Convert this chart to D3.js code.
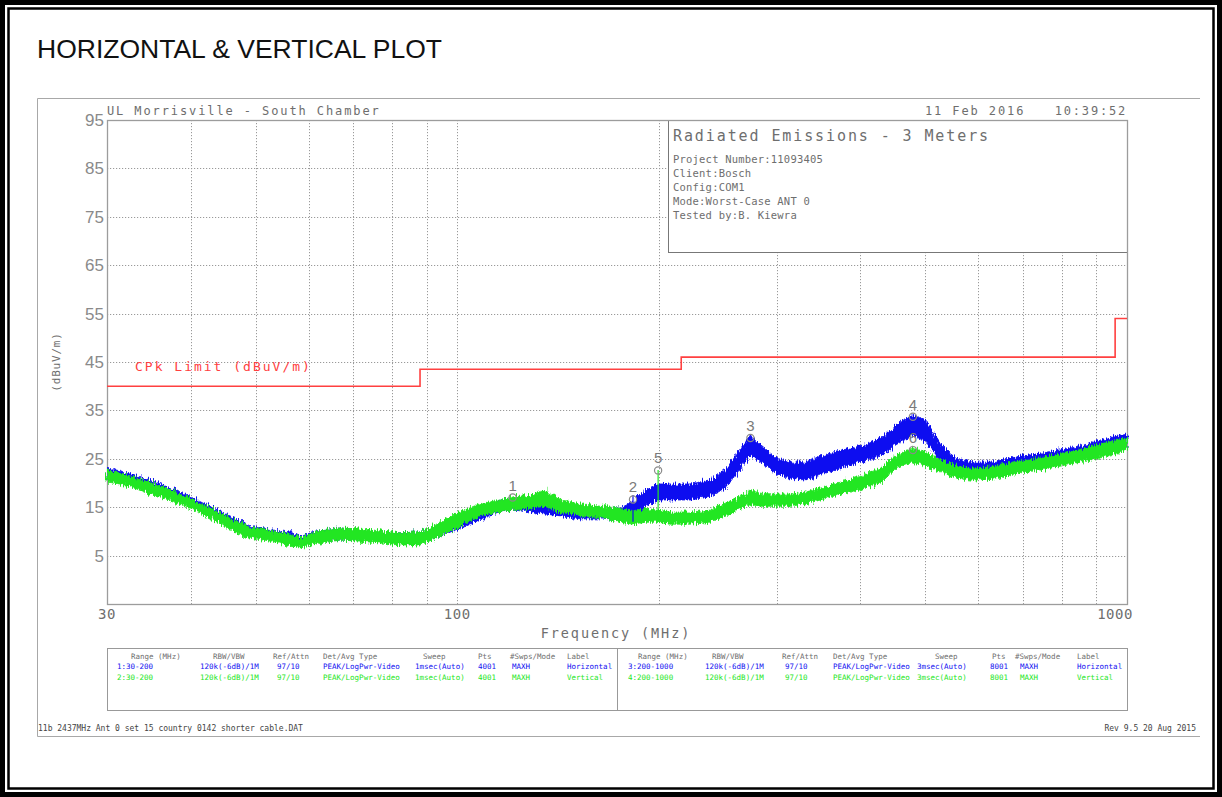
<!DOCTYPE html>
<html><head><meta charset="utf-8">
<script src="https://cdn.jsdelivr.net/npm/d3@7"></script>
<style>
html,body{margin:0;padding:0;background:#fff;}
svg{display:block;}
</style></head><body>
<svg id="chart" width="1222" height="797"></svg>
<script>
// ---- axis ticks ----
const yTickValues = [5, 15, 25, 35, 45, 55, 65, 75, 85, 95];
const yGridValues = [5, 15, 25, 35, 45, 55, 65, 75, 85];
const xGridValues = [40, 50, 60, 70, 80, 90, 100, 200, 300, 400, 500, 600, 700, 800, 900];
const xTickLabels = ["30", "100", "1000"];
const xTickValues = [30, 100, 1000];

// ---- CISPR QP limit (step after each frequency) ----
const limitFreq = [30, 88, 216, 960, 1000];
const limitLevel = [40, 43.5, 46, 54, 54];

// ---- Horizontal polarisation trace: envelope of the peak sweep ----
const hFreq = [30, 32.5, 34.8, 37.3, 39.9, 42.8, 45.8, 49.1, 52.6, 56.3, 58.3, 62.4, 66.9, 71.6, 76.8, 82.2, 88.1, 94.4, 101, 108, 116, 121, 129, 135, 143, 153, 164, 175, 183, 191, 199, 208, 223, 239, 252, 265, 274, 284, 299, 315, 331, 349, 374, 400, 429, 452, 479, 501, 527, 555, 585, 626, 671, 744, 825, 914, 1000];
const hHigh = [23.1, 21.9, 20.6, 19.0, 17.3, 15.2, 13.2, 11.1, 10.3, 9.9, 9.0, 10.3, 10.7, 10.3, 9.9, 9.7, 9.9, 11.5, 13.4, 14.8, 16.5, 16.9, 16.5, 16.5, 15.5, 15.0, 15.0, 14.8, 16.1, 18.6, 19.8, 19.8, 19.8, 20.6, 22.7, 27.2, 29.9, 27.9, 25.2, 24.3, 24.3, 25.6, 26.8, 27.6, 29.3, 32.0, 34.0, 33.0, 27.9, 25.2, 24.3, 24.3, 25.2, 26.2, 27.2, 28.9, 30.1];
const hLow = [20.6, 19.8, 18.1, 16.9, 15.2, 13.2, 10.7, 9.0, 8.2, 7.4, 7.0, 7.8, 8.2, 8.2, 7.8, 7.4, 7.4, 9.0, 10.7, 12.4, 14.0, 14.4, 14.0, 13.6, 13.2, 12.6, 12.6, 12.1, 13.2, 15.2, 16.5, 16.5, 16.5, 17.3, 19.0, 23.1, 25.8, 24.3, 21.9, 21.0, 20.6, 21.9, 23.1, 24.3, 25.6, 27.9, 29.9, 28.5, 24.3, 22.3, 21.4, 21.9, 22.7, 23.7, 24.8, 26.0, 27.2];

// ---- Vertical polarisation trace ----
const vFreq = [30, 32.5, 34.8, 37.3, 39.9, 42.8, 45.8, 49.1, 52.6, 56.3, 58.3, 62.4, 66.9, 71.6, 76.8, 82.2, 88.1, 94.4, 101, 108, 116, 121, 129, 135, 143, 153, 164, 175, 183, 191, 199, 208, 223, 239, 252, 265, 274, 284, 299, 315, 331, 349, 374, 400, 429, 452, 479, 501, 527, 555, 585, 626, 671, 744, 825, 914, 1000];
const vHigh = [22.7, 21.4, 20.2, 18.6, 16.9, 14.8, 12.8, 10.9, 10.1, 9.5, 8.6, 10.3, 10.7, 10.5, 10.1, 9.7, 9.9, 11.9, 14.0, 15.7, 16.5, 17.1, 17.5, 18.6, 16.5, 15.7, 15.2, 14.8, 14.0, 14.8, 14.4, 14.0, 14.0, 14.4, 15.9, 17.3, 18.6, 17.9, 17.7, 17.7, 18.1, 19.0, 20.2, 21.4, 23.1, 25.8, 27.2, 26.4, 24.8, 23.5, 23.1, 23.3, 24.1, 25.2, 26.4, 28.1, 29.3];
const vLow = [20.2, 19.4, 17.7, 16.5, 14.8, 12.8, 10.3, 8.6, 8.0, 7.0, 6.6, 7.6, 8.2, 8.0, 7.6, 7.2, 7.2, 9.0, 11.1, 13.2, 14.0, 14.4, 14.8, 15.2, 14.0, 13.2, 12.8, 11.9, 11.5, 11.9, 11.9, 11.5, 11.5, 11.9, 13.2, 14.8, 15.5, 15.2, 15.2, 15.2, 15.7, 16.5, 17.7, 18.6, 20.2, 23.1, 24.3, 23.5, 22.3, 21.0, 20.6, 20.8, 21.7, 22.7, 23.9, 25.2, 26.8];

// ---- isolated spikes at the sweep boundary ----
const spikeFreq = [183, 199.5];
const spikeTop = [17.5, 22.7];
const spikeBottom = [12.0, 12.0];
const spikeSeries = ["H", "V"];

// ---- peak markers ----
const markerIds = ["1", "2", "5", "3", "4", "6"];
const markerFreq = [121, 183, 199.5, 274, 479, 479];
const markerLevel = [17.0, 16.6, 22.6, 29.3, 33.7, 26.8];

// ---- header / footer text ----
const infoLines = ["Project Number:11093405", "Client:Bosch", "Config:COM1", "Mode:Worst-Case ANT 0", "Tested by:B. Kiewra"];
const tableHeaders = ["Range (MHz)", "RBW/VBW", "Ref/Attn", "Det/Avg Type", "Sweep", "Pts", "#Swps/Mode", "Label"];
const tableRowsLeft = [
  ["1:30-200", "120k(-6dB)/1M", "97/10", "PEAK/LogPwr-Video", "1msec(Auto)", "4001", "MAXH", "Horizontal"],
  ["2:30-200", "120k(-6dB)/1M", "97/10", "PEAK/LogPwr-Video", "1msec(Auto)", "4001", "MAXH", "Vertical"]
];
const tableRowsRight = [
  ["3:200-1000", "120k(-6dB)/1M", "97/10", "PEAK/LogPwr-Video", "3msec(Auto)", "8001", "MAXH", "Horizontal"],
  ["4:200-1000", "120k(-6dB)/1M", "97/10", "PEAK/LogPwr-Video", "3msec(Auto)", "8001", "MAXH", "Vertical"]
];

// ================= drawing =================
const svg = d3.select("#chart");
const W = 1222, H = 797;
const plot = {left: 107, right: 1127, top: 120, bottom: 604};
const x = d3.scaleLog().domain([30, 1000]).range([plot.left, plot.right]);
const y = d3.scaleLinear().domain([-5, 95]).range([plot.bottom, plot.top]);

const BLUE = "#1010f0", GREEN = "#22e622", RED = "#ff4040";
const GREYTXT = "#6e6e6e", GRID = "#9a9a9a";
const mono = "'DejaVu Sans Mono', monospace";

// rough edge for the swept traces (analyser noise floor look)
const defs = svg.append("defs");
const rough = defs.append("filter").attr("id", "rough")
  .attr("x", "-2%").attr("y", "-30%").attr("width", "104%").attr("height", "160%");
rough.append("feTurbulence").attr("type", "fractalNoise").attr("baseFrequency", "0.9 0.12")
  .attr("numOctaves", 2).attr("seed", 4).attr("result", "n");
rough.append("feDisplacementMap").attr("in", "SourceGraphic").attr("in2", "n")
  .attr("scale", 9).attr("xChannelSelector", "R").attr("yChannelSelector", "G");

// page frame
svg.append("rect").attr("width", W).attr("height", H).attr("fill", "#000");
svg.append("rect").attr("x", 5).attr("y", 5).attr("width", W - 10).attr("height", H - 10).attr("fill", "#fff");
svg.append("rect").attr("x", 8.5).attr("y", 8.5).attr("width", W - 17).attr("height", H - 17)
  .attr("fill", "none").attr("stroke", "#000").attr("stroke-width", 2.5);

svg.append("text").attr("x", 37).attr("y", 58)
  .attr("font-family", "'Liberation Sans', Arial, sans-serif").attr("font-size", 26.5)
  .attr("fill", "#111").text("HORIZONTAL & VERTICAL PLOT");

// frame of the analyser print-out
svg.append("path").attr("d", `M1200,98.5H37.5V736.5H1200`).attr("fill", "none")
  .attr("stroke", "#a8a8a8").attr("stroke-width", 1);

// grid
const g = svg.append("g");
g.selectAll(".hg").data(yGridValues).join("line")
  .attr("x1", plot.left).attr("x2", plot.right)
  .attr("y1", d => Math.round(y(d)) + 0.5).attr("y2", d => Math.round(y(d)) + 0.5)
  .attr("stroke", GRID).attr("stroke-dasharray", "1.2,1.8").attr("stroke-width", 1);
g.selectAll(".vg").data(xGridValues).join("line")
  .attr("y1", plot.top).attr("y2", plot.bottom)
  .attr("x1", d => Math.round(x(d)) + 0.5).attr("x2", d => Math.round(x(d)) + 0.5)
  .attr("stroke", GRID).attr("stroke-dasharray", "1.2,1.8").attr("stroke-width", 1);

// info box (covers the grid)
const boxX = 668, boxBottom = 252;
svg.append("rect").attr("x", boxX + 0.5).attr("y", plot.top + 0.5)
  .attr("width", plot.right - boxX).attr("height", boxBottom - plot.top)
  .attr("fill", "#fff").attr("stroke", "#777").attr("stroke-width", 1);
svg.append("text").attr("x", 673).attr("y", 141).attr("font-family", mono)
  .attr("font-size", 15).attr("letter-spacing", 1.9).attr("fill", GREYTXT)
  .text("Radiated Emissions - 3 Meters");
svg.selectAll(".info").data(infoLines).join("text")
  .attr("x", 673).attr("y", (d, i) => 163 + i * 14).attr("font-family", mono)
  .attr("font-size", 10.5).attr("letter-spacing", 0.2).attr("fill", GREYTXT).text(d => d);

// plot border
svg.append("rect").attr("x", plot.left + 0.5).attr("y", plot.top + 0.5)
  .attr("width", plot.right - plot.left).attr("height", plot.bottom - plot.top)
  .attr("fill", "none").attr("stroke", "#9c9c9c").attr("stroke-width", 1.3);

// header strings
svg.append("text").attr("x", 107).attr("y", 115).attr("font-family", mono).attr("font-size", 12)
  .attr("letter-spacing", 1.9).attr("fill", GREYTXT).text("UL Morrisville - South Chamber");
svg.append("text").attr("x", 925).attr("y", 115).attr("font-family", mono).attr("font-size", 12)
  .attr("letter-spacing", 1.9).attr("fill", GREYTXT).text("11 Feb 2016");
svg.append("text").attr("x", 1127).attr("y", 115).attr("text-anchor", "end").attr("font-family", mono)
  .attr("font-size", 12).attr("letter-spacing", 1.8).attr("fill", GREYTXT).text("10:39:52");

// y axis labels
svg.selectAll(".yl").data(yTickValues).join("text")
  .attr("x", 104).attr("y", d => y(d) + 6).attr("text-anchor", "end")
  .attr("font-family", "'Liberation Sans', Arial, sans-serif").attr("font-size", 17)
  .attr("fill", "#8a8a8a").text(d => d);
svg.append("text").attr("transform", `translate(60,362) rotate(-90)`).attr("text-anchor", "middle")
  .attr("font-family", mono).attr("font-size", 11).attr("letter-spacing", 0.8)
  .attr("fill", GREYTXT).text("(dBuV/m)");

// x axis labels
svg.selectAll(".xl").data(xTickValues).join("text")
  .attr("x", (d, i) => x(d) + (i === 2 ? -12 : 0)).attr("y", 619).attr("text-anchor", "middle")
  .attr("font-family", mono).attr("font-size", 14).attr("letter-spacing", 0.5)
  .attr("fill", GREYTXT).text((d, i) => xTickLabels[i]);
svg.append("text").attr("x", 616).attr("y", 638).attr("text-anchor", "middle")
  .attr("font-family", mono).attr("font-size", 13.5).attr("letter-spacing", 1.9)
  .attr("fill", GREYTXT).text("Frequency (MHz)");

// limit line
svg.append("path")
  .datum(limitFreq.map((f, i) => [f, limitLevel[i]]))
  .attr("d", d3.line().x(d => x(d[0])).y(d => y(d[1])).curve(d3.curveStepAfter))
  .attr("fill", "none").attr("stroke", RED).attr("stroke-width", 1.6);
svg.append("text").attr("x", 135).attr("y", 371).attr("font-family", mono)
  .attr("font-size", 13).attr("letter-spacing", 2.0).attr("fill", RED)
  .text("CPk Limit (dBuV/m)");

// traces
const band = d3.area().x(d => x(d.f)).y0(d => y(d.lo)).y1(d => y(d.hi)).curve(d3.curveLinear);
function drawTrace(freq, hi, lo, color) {
  const data = freq.map((f, i) => ({f, hi: hi[i], lo: lo[i]}));
  svg.append("path").datum(data).attr("d", band).attr("filter", "url(#rough)")
    .attr("fill", color).attr("stroke", color).attr("stroke-width", 0.8).attr("stroke-linejoin", "round");
}
drawTrace(hFreq, hHigh, hLow, BLUE);
drawTrace(vFreq, vHigh, vLow, GREEN);
svg.selectAll(".spike").data(spikeFreq).join("line")
  .attr("x1", d => x(d)).attr("x2", d => x(d))
  .attr("y1", (d, i) => y(spikeTop[i])).attr("y2", (d, i) => y(spikeBottom[i]))
  .attr("stroke", (d, i) => spikeSeries[i] === "H" ? BLUE : GREEN).attr("stroke-width", 1.2);

// markers
const mk = svg.append("g");
markerIds.forEach((id, i) => {
  const mx = x(markerFreq[i]), my = y(markerLevel[i]);
  mk.append("circle").attr("cx", mx).attr("cy", my).attr("r", 3.6)
    .attr("fill", "none").attr("stroke", "#8a8a8a").attr("stroke-width", 1.2);
  mk.append("text").attr("x", mx).attr("y", my - 7).attr("text-anchor", "middle")
    .attr("font-family", "'Liberation Sans', Arial, sans-serif").attr("font-size", 15)
    .attr("fill", "#7a7a7a").text(id);
});

// settings table
svg.append("rect").attr("x", 107.5).attr("y", 648.5).attr("width", 1020).attr("height", 62)
  .attr("fill", "none").attr("stroke", "#999").attr("stroke-width", 1);
svg.append("line").attr("x1", 617.5).attr("x2", 617.5).attr("y1", 648.5).attr("y2", 710.5)
  .attr("stroke", "#999");
const colL = [131, 213, 273, 323, 423, 478, 510, 567];
const colLv = [117, 200, 277, 323, 415, 478, 512, 567];
const colR = [638, 712, 782, 833, 935, 992, 1015, 1077];
const colRv = [628, 705, 785, 833, 917, 990, 1020, 1077];
const rowColors = [BLUE, GREEN];
function drawTable(hx, vx, rows) {
  tableHeaders.forEach((t, i) => svg.append("text").attr("x", hx[i]).attr("y", 659)
    .attr("font-family", mono).attr("font-size", 7.5).attr("fill", GREYTXT).text(t));
  rows.forEach((r, ri) => r.forEach((t, i) => svg.append("text").attr("x", vx[i]).attr("y", 669 + ri * 10.5)
    .attr("font-family", mono).attr("font-size", 7.5).attr("fill", rowColors[ri]).text(t)));
}
drawTable(colL, colLv, tableRowsLeft);
drawTable(colR, colRv, tableRowsRight);

// footer
svg.append("text").attr("x", 38).attr("y", 731).attr("font-family", mono).attr("font-size", 8)
  .attr("fill", "#444").text("11b 2437MHz Ant 0 set 15 country 0142 shorter cable.DAT");
svg.append("text").attr("x", 1196).attr("y", 731).attr("text-anchor", "end").attr("font-family", mono)
  .attr("font-size", 8).attr("fill", "#444").text("Rev 9.5 20 Aug 2015");
</script>
</body></html>
